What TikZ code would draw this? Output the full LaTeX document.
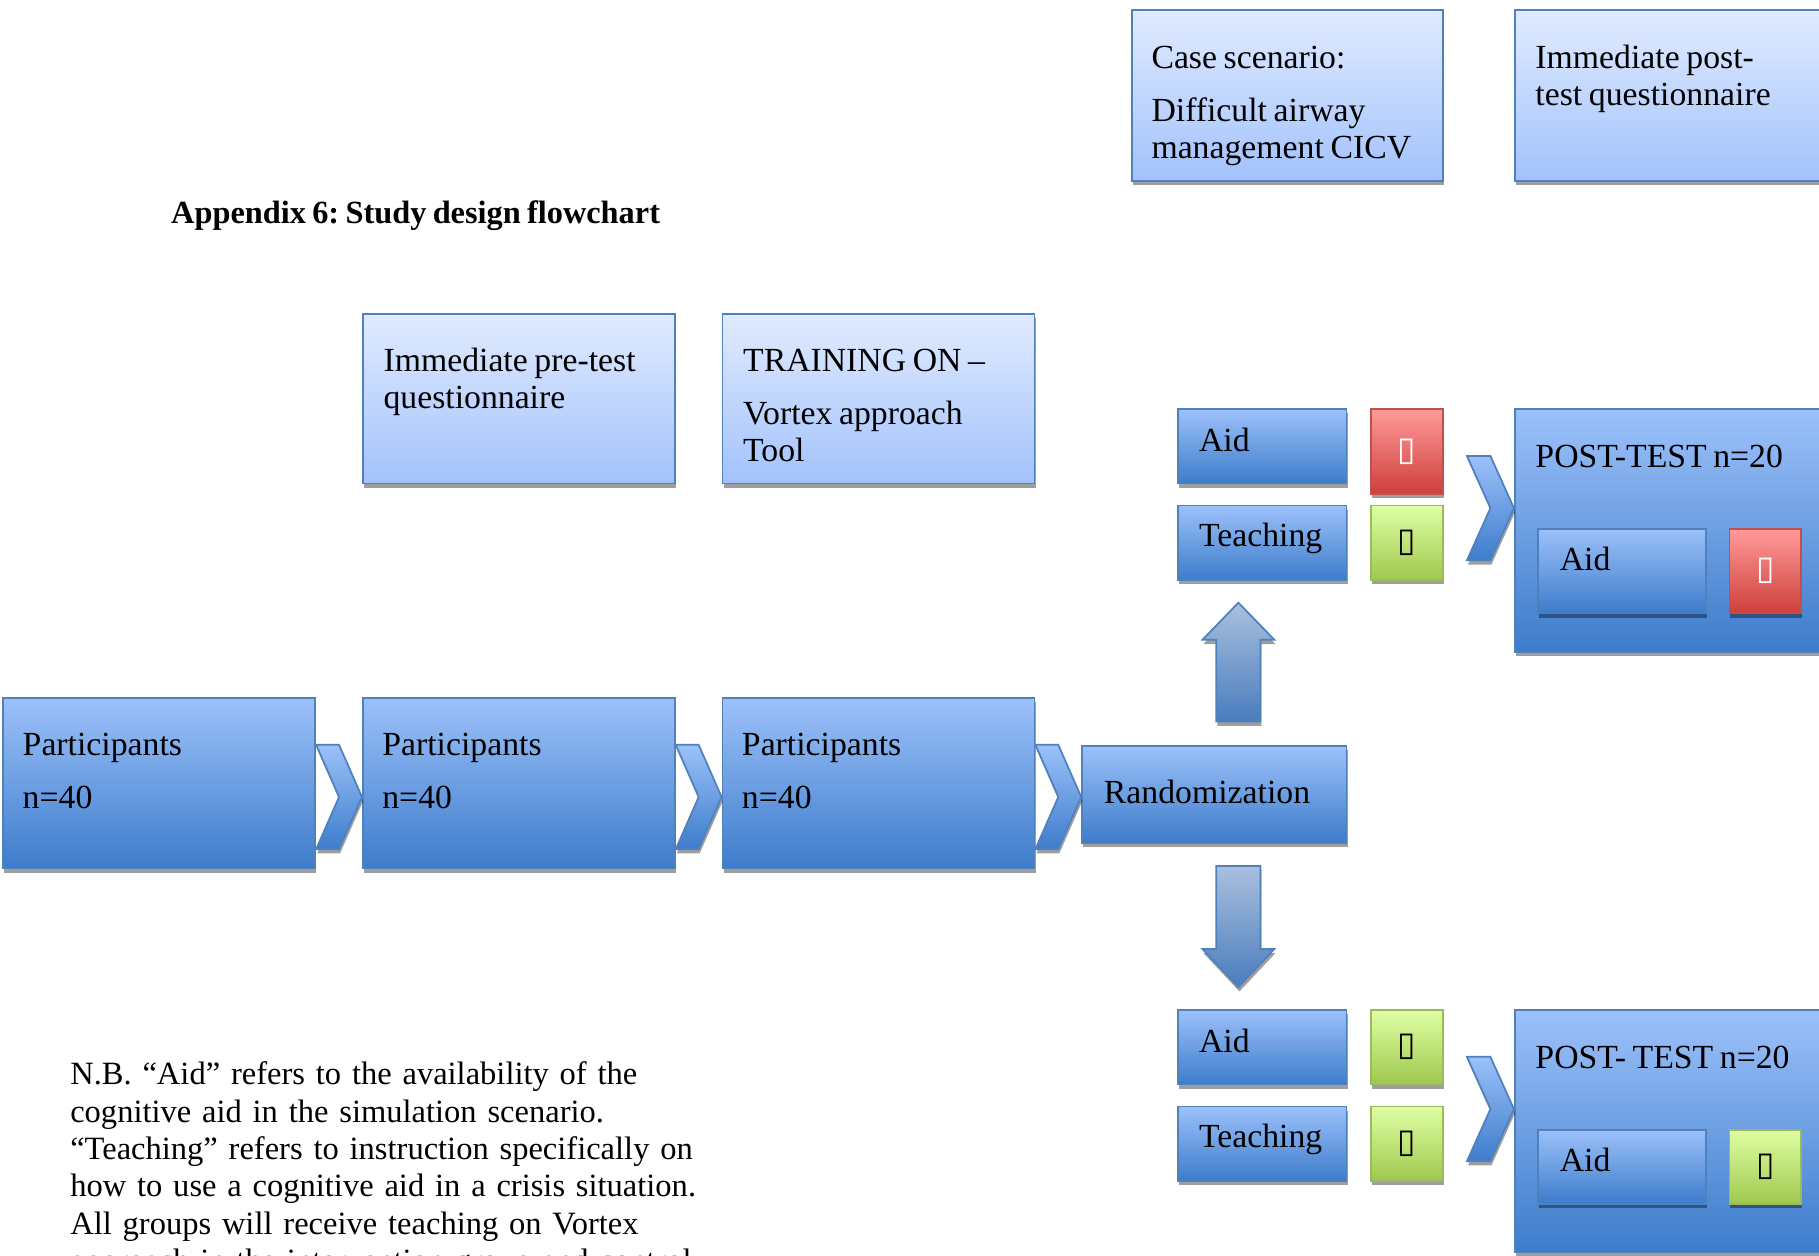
\documentclass[tikz,border=0pt]{standalone}
\usepackage{fontspec}
\setmainfont[WordSpace=0.78]{Liberation Serif}
\newfontfamily\boxglyphfont{DejaVu Sans}
\usepackage{tikz}
\usetikzlibrary{calc,shadows}
\frenchspacing
\definecolor{edgeblue}{HTML}{4F81BD}
\definecolor{dtop}{HTML}{9CC1FA}
\definecolor{dbot}{HTML}{3D7CCB}
\definecolor{ltop}{HTML}{E1EBFF}
\definecolor{lbot}{HTML}{A2C2FC}
\definecolor{rtop}{HTML}{FF9A99}
\definecolor{rbot}{HTML}{CE3F3B}
\definecolor{redge}{HTML}{C0504D}
\definecolor{gtop}{HTML}{DFFFA3}
\definecolor{gbot}{HTML}{9FC84F}
\definecolor{gedge}{HTML}{9BBB59}
\definecolor{atop}{HTML}{A9C0DE}
\definecolor{abot}{HTML}{4A7CBE}
\tikzset{
  every picture/.style={line join=miter},
  wh/.style 2 args={minimum width=#1*0.116mm, minimum height=#2*0.116mm},
  boxshadow/.style={drop shadow={shadow xshift=0.3pt,shadow yshift=-1.2pt,fill=black,opacity=0.38}},
  panel/.style={draw=edgeblue,line width=0.5pt,anchor=north west,inner sep=0pt,boxshadow},
  dbox/.style={panel,top color=dtop,bottom color=dbot},
  lbox/.style={panel,top color=ltop,bottom color=lbot},
  rbox/.style={panel,draw=redge,top color=rtop,bottom color=rbot,text=white,font=\boxglyphfont\fontsize{9.5}{9.5}\selectfont},
  gbox/.style={panel,draw=gedge,top color=gtop,bottom color=gbot,text=black,font=\boxglyphfont\fontsize{9.5}{9.5}\selectfont},
  txt/.style={anchor=base west,inner sep=0pt,font=\fontsize{9.6}{11.5}\selectfont},
  chev/.style={draw=edgeblue,line width=0.5pt,top color=dtop,bottom color=dbot,boxshadow},
  blockarrow/.style={draw=edgeblue,line width=0.5pt,top color=atop,bottom color=abot,boxshadow},
}
% chevron between two nodes: from, to, gap after 'from', top y, bottom y
\newcommand\chevron[5]{%
  \path[chev] let \p1=($(#1.east)+(#3,0)$), \p2=(#2.west), \p3=(0,#4), \p4=(0,#5) in
    (\x1,\y3) -- ({(\x1+\x2)/2},\y3) -- (\x2,{(\y3+\y4)/2}) -- ({(\x1+\x2)/2},\y4)
    -- (\x1,\y4) -- ({(\x1+\x2)/2},{(\y3+\y4)/2}) -- cycle;}

\begin{document}
\begin{tikzpicture}[x=0.116mm,y=-0.116mm]
\useasboundingbox (0,0) rectangle (1568,1082);
\clip (0,0) rectangle (1568,1082);

\node[anchor=base west,inner sep=0pt,font=\bfseries\fontsize{9.2}{11}\selectfont] (title) at (147,193) {Appendix 6: Study design flowchart};

% top row
\node[lbox,wh={268}{147}] (case) at (975,8) {};
\node[txt] (casea) at ([shift={(17,51)}]case.north west) {Case scenario:};
\node[txt] (caseb) at ([shift={(17,97)}]case.north west) {Difficult airway};
\node[txt] (casec) at ([shift={(17,129)}]case.north west) {management CICV};
\node[lbox,wh={269}{147}] (postq) at (1305,8) {};
\node[txt] (postqa) at ([shift={(18,51)}]postq.north west) {Immediate post-};
\node[txt] (postqb) at ([shift={(18,83)}]postq.north west) {test questionnaire};

\node[lbox,wh={269}{146}] (preq) at (312,270) {};
\node[txt] (preqa) at ([shift={(18,50)}]preq.north west) {Immediate pre-test};
\node[txt] (preqb) at ([shift={(18,82)}]preq.north west) {questionnaire};
\node[lbox,wh={269}{146}] (train) at (622,270) {};
\node[txt] (traina) at ([shift={(18,50)}]train.north west) {TRAINING ON –};
\node[txt] (trainb) at ([shift={(18,96)}]train.north west) {Vortex approach};
\node[txt] (trainc) at ([shift={(18,128)}]train.north west) {Tool};

% main row
\node[dbox,wh={269}{147}] (p1) at (2,601) {};
\node[dbox,wh={269}{147}] (p2) at (312,601) {};
\node[dbox,wh={269}{147}] (p3) at (622,601) {};
\foreach \n in {p1,p2,p3}{
  \node[txt] (\n a) at ([shift={(17,50)}]\n.north west) {Participants};
  \node[txt] (\n b) at ([shift={(17,96)}]\n.north west) {n=40};
}
\node[dbox,wh={228}{84}] (rand) at (932,642) {};
\node[txt] (randa) at ([shift={(19,51)}]rand.north west) {Randomization};

% upper arm
\node[dbox,wh={145}{64}] (aid1) at (1015,352) {};
\node[txt] (aid1a) at ([shift={(18,37)}]aid1.north west) {Aid};
\node[rbox,wh={62}{73}] (m1) at (1181,352) {▯};
\node[dbox,wh={145}{64}] (teach1) at (1015,435) {};
\node[txt] (teach1a) at ([shift={(18,36)}]teach1.north west) {Teaching};
\node[gbox,wh={62}{64}] (m2) at (1181,435) {▯};
\node[dbox,wh={269}{209}] (post1) at (1305,352) {};
\node[txt] (post1a) at ([shift={(18,51)}]post1.north west) {POST-TEST n=20};
\node[dbox,wh={145}{73}] (aid1i) at (1325,455) {};
\node[txt] (aid1ia) at ([shift={(19,37)}]aid1i.north west) {Aid};
\node[rbox,wh={62}{73}] (m3) at (1490,455) {▯};

% lower arm
\node[dbox,wh={145}{64}] (aid2) at (1015,870) {};
\node[txt] (aid2a) at ([shift={(18,37)}]aid2.north west) {Aid};
\node[gbox,wh={62}{64}] (m4) at (1181,870) {▯};
\node[dbox,wh={145}{64}] (teach2) at (1015,953) {};
\node[txt] (teach2a) at ([shift={(18,36)}]teach2.north west) {Teaching};
\node[gbox,wh={62}{64}] (m5) at (1181,953) {▯};
\node[dbox,wh={269}{209}] (post2) at (1305,870) {};
\node[txt] (post2a) at ([shift={(18,51)}]post2.north west) {POST- TEST n=20};
\node[dbox,wh={145}{64}] (aid2i) at (1325,973) {};
\node[txt] (aid2ia) at ([shift={(19,37)}]aid2i.north west) {Aid};
\node[gbox,wh={62}{64}] (m6) at (1490,973) {▯};

\chevron{p1}{p2}{0}{642}{732}
\chevron{p2}{p3}{0}{642}{732}
\chevron{p3}{rand}{0}{642}{732}
\chevron{m2}{post1}{20}{393}{483}
\chevron{m5}{post2}{20}{911}{1001}

\path[blockarrow] let \p1=(rand.north), \p2=(teach1.south), \p3=($(rand.center)!.5!(aid1.center)$) in
  ([shift={(-19,-20)}]\x3,\y1) -- ([shift={(-19,51)}]\x3,\y2) -- ([shift={(-31,51)}]\x3,\y2) -- ([shift={(0,19)}]\x3,\y2)
  -- ([shift={(31,51)}]\x3,\y2) -- ([shift={(19,51)}]\x3,\y2) -- ([shift={(19,-20)}]\x3,\y1) -- cycle;
\path[blockarrow] let \p1=(rand.south), \p2=(aid2.north), \p3=($(rand.center)!.5!(aid1.center)$) in
  ([shift={(-19,19)}]\x3,\y1) -- ([shift={(-19,-52)}]\x3,\y2) -- ([shift={(-31,-52)}]\x3,\y2) -- ([shift={(0,-19)}]\x3,\y2)
  -- ([shift={(31,-52)}]\x3,\y2) -- ([shift={(19,-52)}]\x3,\y2) -- ([shift={(19,19)}]\x3,\y1) -- cycle;

\node[anchor=base west,inner sep=0pt,text width=90mm,align=left,font=\fontsize{9.25}{10.63}\selectfont] (nb) at (60,935)
  {N.B. “Aid” refers to the availability of the\\
   cognitive aid in the simulation scenario.\\
   “Teaching” refers to instruction specifically on\\
   how to use a cognitive aid in a crisis situation.\\
   All groups will receive teaching on Vortex\\
   approach in the intervention group and control};
\end{tikzpicture}
\end{document}
